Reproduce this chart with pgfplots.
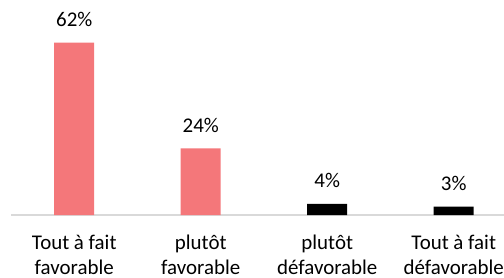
\documentclass[border=0pt]{standalone}
\usepackage{pgfplots}
\pgfplotsset{compat=1.18}
\usepackage{fontspec}
\setmainfont{Carlito}
\definecolor{barpink}{HTML}{F4777A}
\begin{document}
\begin{tikzpicture}
\useasboundingbox (0,0) rectangle (252bp,139bp);
\clip (0,0) rectangle (252bp,139bp);
\begin{axis}[
  at={(5.5bp,31.5bp)}, anchor=south west,
  scale only axis, width=253bp, height=97.3bp,
  xmin=-0.5, xmax=3.5, ymin=0, ymax=70,
  axis y line=none,
  axis x line=bottom,
  x axis line style={-, draw=black!15, line width=1bp},
  xtick={0,1,2,3},
  xticklabels={{Tout à fait\\favorable},{plutôt\\favorable},{plutôt\\défavorable},{Tout à fait\\défavorable}},
  xticklabel style={align=center, font=\fontsize{10.5}{12.5}\selectfont, yshift=-6.5bp},
  major tick length=0pt,
  ybar, bar width=20bp, bar shift=0pt,
  nodes near coords={\pgfmathprintnumber[assume math mode=true]{\pgfplotspointmeta}\%},
  every node near coord/.append style={font=\fontsize{10.5}{13}\selectfont, yshift=4.5bp, text=black},
  clip=false,
]
\addplot[fill=barpink, draw=none] coordinates {(0,62) (1,24)};
\addplot[fill=black, draw=none] coordinates {(2,4) (3,3)};
\end{axis}
\end{tikzpicture}
\end{document}
